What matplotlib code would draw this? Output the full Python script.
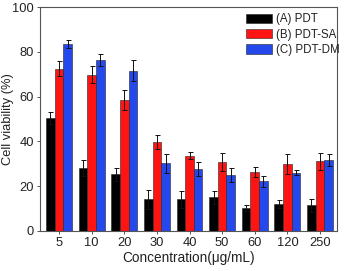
import numpy as np
import matplotlib
matplotlib.use("Agg")
import matplotlib.pyplot as plt

plt.rcParams['font.family'] = ['Liberation Sans', 'DejaVu Sans']

conc = ['5', '10', '20', '30', '40', '50', '60', '120', '250']
pdt = [50.3, 28.1, 25.3, 14.1, 14.1, 15.0, 10.1, 12.1, 11.5]
pdt_err = [2.7, 3.6, 3.0, 4.2, 3.8, 3.0, 1.4, 1.9, 2.9]
pdt_sa = [72.5, 69.8, 58.6, 39.7, 33.5, 30.8, 26.3, 30.0, 31.0]
pdt_sa_err = [3.4, 3.9, 4.5, 3.0, 1.6, 4.2, 2.3, 4.4, 3.7]
pdt_dm = [83.6, 76.3, 71.6, 30.2, 27.7, 25.0, 22.2, 26.0, 31.8]
pdt_dm_err = [1.7, 2.7, 4.7, 4.3, 3.0, 3.0, 2.5, 1.1, 2.7]

series = [
    (pdt, pdt_err, '#000000', '(A) PDT'),
    (pdt_sa, pdt_sa_err, '#ff1414', '(B) PDT-SA'),
    (pdt_dm, pdt_dm_err, '#2448ec', '(C) PDT-DM'),
]

fig = plt.figure(figsize=(3.45, 2.71), dpi=100)
ax = fig.add_axes([0.116, 0.148, 0.861, 0.826])

x = np.arange(len(conc))
w = 0.265
for i, (vals, errs, col, lab) in enumerate(series):
    ax.bar(x + (i - 1) * w, vals, w, color=col, edgecolor='#222222', linewidth=0.4,
           label=lab, yerr=errs, capsize=1.8,
           error_kw=dict(elinewidth=0.7, capthick=0.7, ecolor='#111111'))

ax.set_xlim(-0.58, 8.52)
ax.set_ylim(0, 100)
ax.set_xticks(x)
ax.set_xticklabels(conc)
ax.set_yticks([0, 20, 40, 60, 80, 100])
ax.tick_params(labelsize=9.3, length=2.5, width=0.7, color='#555555', pad=2,
               labelcolor='#222222')
for s in ax.spines.values():
    s.set_color('#555555')
    s.set_linewidth(0.8)

ax.set_xlabel('Concentration(μg/mL)', fontsize=9.8, labelpad=1, color='#222222')
ax.set_ylabel('Cell viability (%)', fontsize=9.3, color='#222222')
ax.yaxis.set_label_coords(-0.086, 0.5)

leg = ax.legend(loc='upper right', frameon=False, fontsize=8.3, handlelength=2.3,
                handleheight=0.85, labelspacing=0.3, handletextpad=0.35,
                borderpad=0, borderaxespad=0, bbox_to_anchor=(1.01, 0.973))
for t in leg.get_texts():
    t.set_color('#222222')

fig.savefig('out.png', dpi=100)
